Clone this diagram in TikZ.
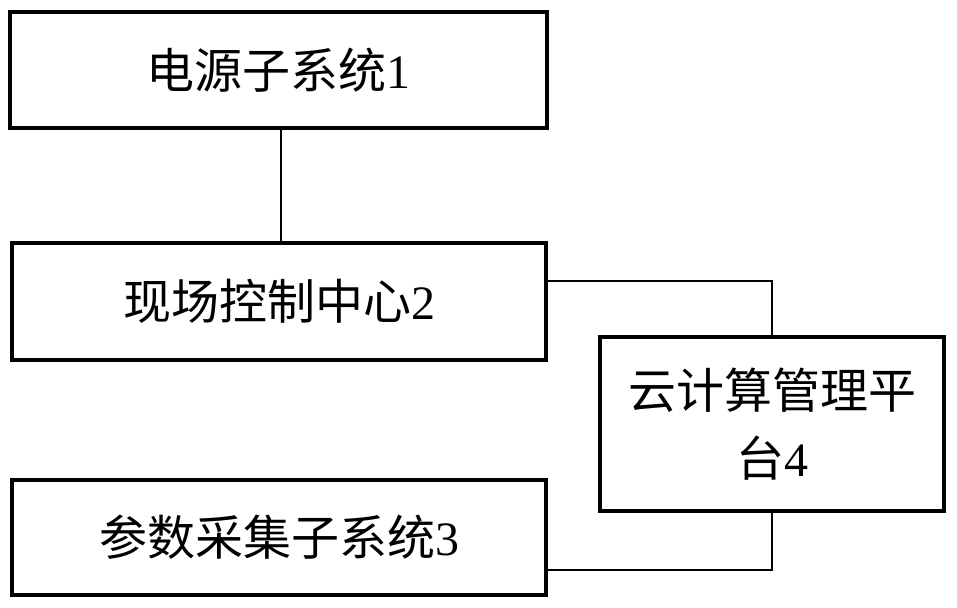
\documentclass[tikz,border=0pt]{standalone}
\usepackage{fontspec}
\setmainfont{Liberation Serif}
\newfontfamily\cjk{Noto Sans CJK SC}
\begin{document}
\begin{tikzpicture}[x=1pt,y=-1pt,
  box/.style={draw=black,line width=4pt,inner sep=0pt,fill=white,font=\fontsize{48}{68}\selectfont},
  conn/.style={draw=black,line width=2.8pt}]
\useasboundingbox (0,0) rectangle (957,607);
\node[box,minimum width=537pt,minimum height=116pt] (b1) at (278.5,70) {{\cjk 电源子系统}1};
\node[box,minimum width=534pt,minimum height=117pt] (b2) at (279,301.5) {{\cjk 现场控制中心}2};
\node[box,minimum width=534pt,minimum height=115pt] (b3) at (279,537.5) {{\cjk 参数采集子系统}3};
\node[box,minimum width=344pt,minimum height=174pt,align=center] (b4) at (772,424) {{\cjk 云计算管理平}\\{\cjk 台}4};
\coordinate (j2) at (772,281);
\coordinate (j3) at (772,570);
\draw[conn] (b1.south -| 281,0) -- (b2.north -| 281,0);
\draw[conn] (b2.east |- j2) -- (j2) -- (b4.north);
\draw[conn] (b4.south) -- (j3) -- (b3.east |- j3);
\end{tikzpicture}
\end{document}
